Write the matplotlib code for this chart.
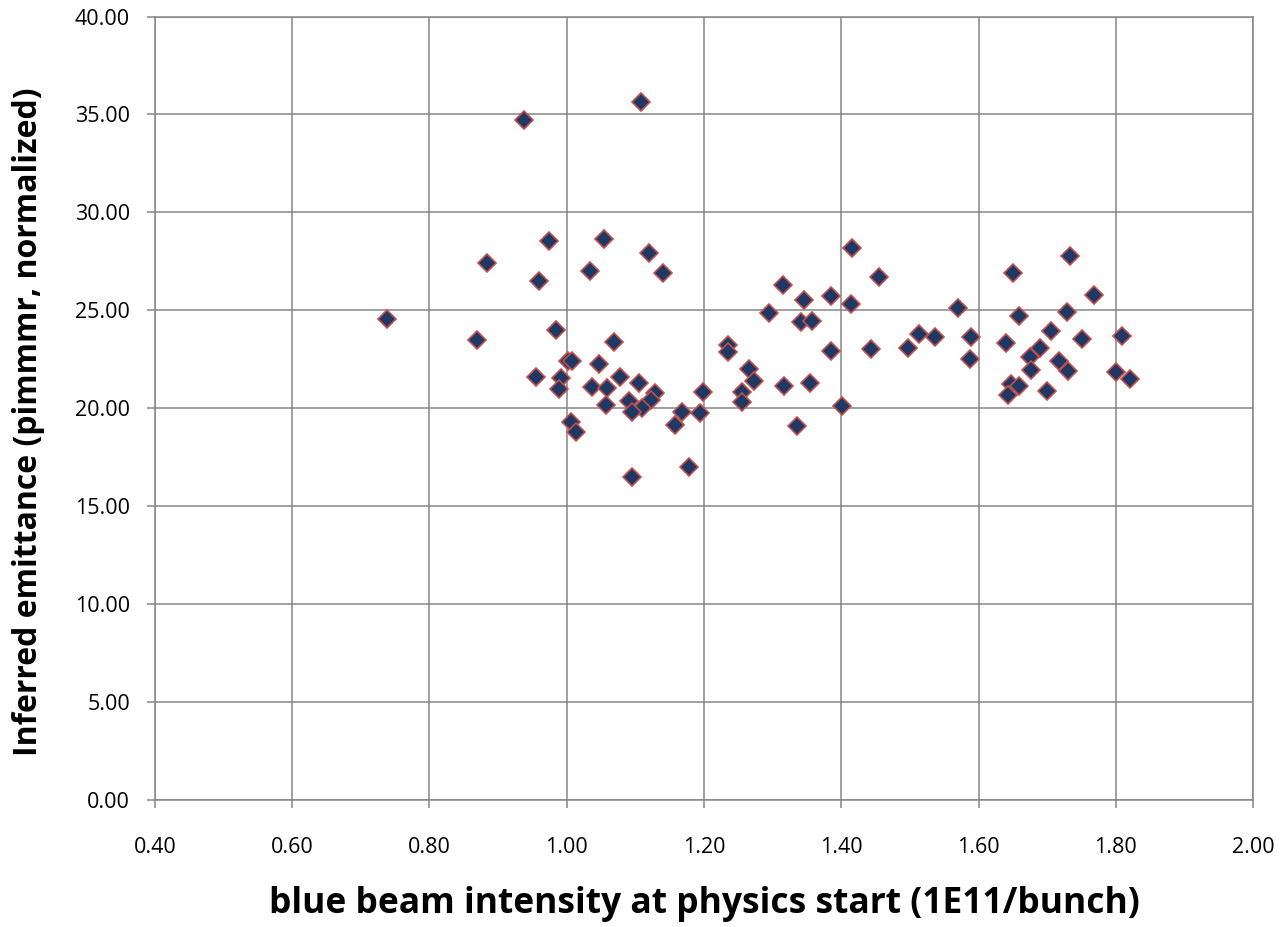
import matplotlib.pyplot as plt
from matplotlib.ticker import FormatStrFormatter, MultipleLocator

# blue beam intensity (1E11/bunch) vs inferred emittance (pimmmr, normalized)
intensity = [
    0.9375, 1.1075, 0.974, 1.0547, 0.8838, 1.120, 1.0344, 1.140, 0.9593, 0.738,
    0.8688, 0.985, 1.069, 1.002, 1.008, 1.0465, 0.9554, 0.991, 0.989, 1.077,
    1.037, 1.058, 1.1056, 1.128, 1.123, 1.0906, 1.0576, 1.110, 1.095, 1.168,
    1.158, 1.0068, 1.014, 1.1777, 1.0944,
    1.416, 1.4549, 1.315, 1.3456, 1.3854, 1.414, 1.570, 1.2947, 1.3417, 1.3568,
    1.235, 1.235, 1.514, 1.536, 1.589, 1.3854, 1.444, 1.4966, 1.588, 1.266,
    1.2733, 1.2549, 1.2549, 1.3165, 1.3544, 1.1985, 1.1937, 1.4005, 1.335,
    1.7338, 1.6507, 1.7686, 1.6594, 1.7285, 1.7063, 1.7502, 1.8092, 1.6406, 1.6899,
    1.6754, 1.7174, 1.7309, 1.6768, 1.800, 1.8213, 1.6473, 1.6594, 1.6435, 1.6995,
]
emittance = [
    34.73, 35.63, 28.54, 28.63, 27.40, 27.90, 27.01, 26.91, 26.50, 24.54,
    23.50, 23.99, 23.36, 22.39, 22.39, 22.26, 21.58, 21.54, 20.98, 21.56,
    21.06, 21.02, 21.27, 20.79, 20.42, 20.38, 20.16, 20.02, 19.79, 19.79,
    19.11, 19.28, 18.77, 16.98, 16.50,
    28.16, 26.71, 26.29, 25.50, 25.71, 25.33, 25.10, 24.86, 24.40, 24.43,
    23.21, 22.84, 23.79, 23.62, 23.62, 22.90, 23.00, 23.05, 22.50, 21.97,
    21.36, 20.81, 20.29, 21.12, 21.29, 20.81, 19.74, 20.09, 19.09,
    27.76, 26.92, 25.75, 24.70, 24.88, 23.92, 23.55, 23.69, 23.34, 23.08,
    22.60, 22.38, 21.89, 21.92, 21.85, 21.50, 21.21, 21.10, 20.68, 20.86,
]

plt.rcParams["font.family"] = ["Open Sans", "DejaVu Sans"]

fig = plt.figure(figsize=(12.87, 9.27), dpi=100)
ax = fig.add_axes([0.1204, 0.1375, 0.8532, 0.8447])

grid_color = "#868686"
ax.plot(intensity, emittance, linestyle="none", marker="D", markersize=9,
        markerfacecolor="#1F3864", markeredgecolor="#C0504D", markeredgewidth=1.2,
        zorder=3)

ax.set_xlim(0.4, 2.0)
ax.set_ylim(0, 40)
ax.xaxis.set_major_locator(MultipleLocator(0.2))
ax.yaxis.set_major_locator(MultipleLocator(5))
ax.xaxis.set_major_formatter(FormatStrFormatter("%.2f"))
ax.yaxis.set_major_formatter(FormatStrFormatter("%.2f"))
ax.grid(True, color=grid_color, linewidth=1.1, zorder=0)
ax.set_axisbelow(True)
for side, spine in ax.spines.items():
    spine.set_color(grid_color)
    spine.set_linewidth(1.1)
ax.tick_params(direction="out", length=6, width=1.1, color=grid_color,
               labelsize=15.5, pad=12)
ax.tick_params(axis="x", pad=21)

ax.set_xlabel("blue beam intensity at physics start (1E11/bunch)",
              fontsize=25.5, fontweight="bold", labelpad=20)
ax.set_ylabel("Inferred emittance (pimmmr, normalized)",
              fontsize=23, fontweight="bold")
ax.yaxis.set_label_coords(-0.1, 0.482)

fig.savefig("out.png", dpi=100)
